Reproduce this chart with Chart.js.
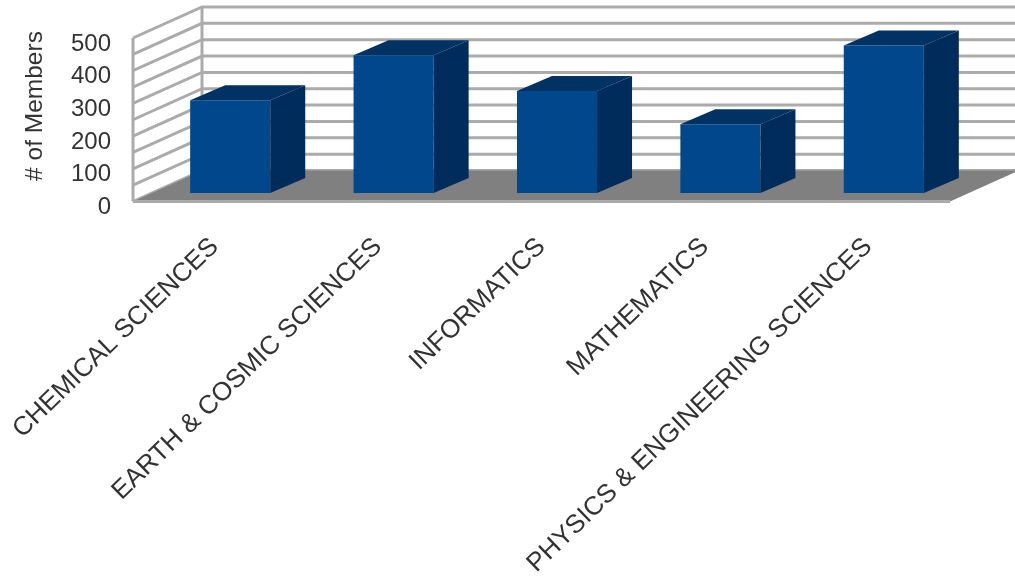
<!DOCTYPE html>
<html>
<head>
<meta charset="utf-8">
<style>
    body { margin: 0; padding: 0; background: #fff; overflow: hidden; }
</style>
<script src="https://cdn.jsdelivr.net/npm/chart.js@4"></script>
</head>
<body>
<canvas id="chartCanvas" width="1015" height="588"></canvas>
<script>
const categories = [
    'CHEMICAL SCIENCES',
    'EARTH & COSMIC SCIENCES',
    'INFORMATICS',
    'MATHEMATICS',
    'PHYSICS & ENGINEERING SCIENCES',
];
const members = [284, 421, 312, 210, 451];
const yAxisTitle = '# of Members';

const textColor = '#333';
const gridColor = '#ababab';

// The 3D look: the walls sit behind the front plane, the bars halfway in
const wallDepth = { x: 69, y: -31 };
const barShift = { x: 15.5, y: -8.5 };
const barDepth = { x: 35, y: -15 };

const polygon = (ctx, points, color) => {
    ctx.fillStyle = color;
    ctx.beginPath();
    points.forEach(([x, y]) => ctx.lineTo(x, y));
    ctx.closePath();
    ctx.fill();
};

const wallsPlugin = {
    id: 'walls',
    beforeDatasetsDraw(chart) {
        const { ctx, scales: { x, y } } = chart;
        const left = x.left;
        const right = x.right;
        const bottom = y.getPixelForValue(0);
        const top = y.getPixelForValue(500);

        ctx.save();
        ctx.strokeStyle = gridColor;
        ctx.lineWidth = 3;

        // gridlines on the left wall and the back wall
        y.ticks.forEach((tick) => {
            const py = y.getPixelForValue(tick.value);
            ctx.beginPath();
            ctx.moveTo(left, py);
            ctx.lineTo(left + wallDepth.x, py + wallDepth.y);
            ctx.lineTo(right + wallDepth.x, py + wallDepth.y);
            ctx.stroke();
        });

        // wall edges
        ctx.beginPath();
        ctx.moveTo(left, bottom);
        ctx.lineTo(left, top);
        ctx.moveTo(left + wallDepth.x, bottom + wallDepth.y);
        ctx.lineTo(left + wallDepth.x, top + wallDepth.y);
        ctx.stroke();

        // floor
        polygon(ctx, [
            [left, bottom],
            [right, bottom],
            [right + wallDepth.x, bottom + wallDepth.y],
            [left + wallDepth.x, bottom + wallDepth.y],
        ], '#808080');
        ctx.beginPath();
        ctx.moveTo(left, bottom);
        ctx.lineTo(right, bottom);
        ctx.stroke();
        ctx.restore();

        // the bars are drawn by Chart.js inside this shift
        ctx.save();
        ctx.translate(barShift.x, barShift.y);
    },
    afterDatasetsDraw(chart) {
        const { ctx } = chart;
        chart.getDatasetMeta(0).data.forEach((bar) => {
            const l = bar.x - bar.width / 2;
            const r = bar.x + bar.width / 2;
            polygon(ctx, [
                [l, bar.y],
                [r, bar.y],
                [r + barDepth.x, bar.y + barDepth.y],
                [l + barDepth.x, bar.y + barDepth.y],
            ], '#003264');
            polygon(ctx, [
                [r, bar.y],
                [r + barDepth.x, bar.y + barDepth.y],
                [r + barDepth.x, bar.base + barDepth.y],
                [r, bar.base],
            ], '#002c5c');
        });
        ctx.restore();

        // axis title sits above the middle of the axis, so it is placed by hand
        ctx.save();
        ctx.translate(35, 106);
        ctx.rotate(-Math.PI / 2);
        ctx.fillStyle = textColor;
        ctx.font = '24.5px "Liberation Sans"';
        ctx.textAlign = 'center';
        ctx.textBaseline = 'middle';
        ctx.fillText(yAxisTitle, 0, 0);
        ctx.restore();
    },
};

new Chart(document.getElementById('chartCanvas').getContext('2d'), {
    type: 'bar',
    data: {
        labels: categories,
        datasets: [{
            label: yAxisTitle,
            data: members,
            backgroundColor: '#00478c',
            barPercentage: 0.49,
            categoryPercentage: 1,
        }],
    },
    options: {
        responsive: false,
        animation: false,
        layout: { padding: { top: 38, right: 65, left: 0, bottom: 0 } },
        plugins: {
            legend: { display: false },
            tooltip: { enabled: false },
        },
        scales: {
            x: {
                grid: { display: false },
                border: { display: false },
                afterFit: (scale) => {
                    scale.height = 386.5;
                    // long rotated labels must not push the plot to the right
                    scale.paddingLeft = 0;
                    scale.paddingRight = 0;
                },
                ticks: {
                    color: textColor,
                    font: { family: 'Liberation Sans', size: 26 },
                    minRotation: 44,
                    maxRotation: 44,
                    autoSkip: false,
                    padding: 22,
                },
            },
            y: {
                min: 0,
                max: 500,
                grid: { display: false, drawTicks: false },
                border: { display: false },
                afterFit: (scale) => { scale.width = 133; },
                ticks: {
                    color: textColor,
                    font: { family: 'Liberation Sans', size: 24 },
                    stepSize: 50,
                    padding: 22,
                    labelOffset: 6,
                    autoSkip: false,
                    callback: (value) => (value % 100 === 0 ? value : ''),
                },
            },
        },
    },
    plugins: [wallsPlugin],
});
</script>
</body>
</html>
